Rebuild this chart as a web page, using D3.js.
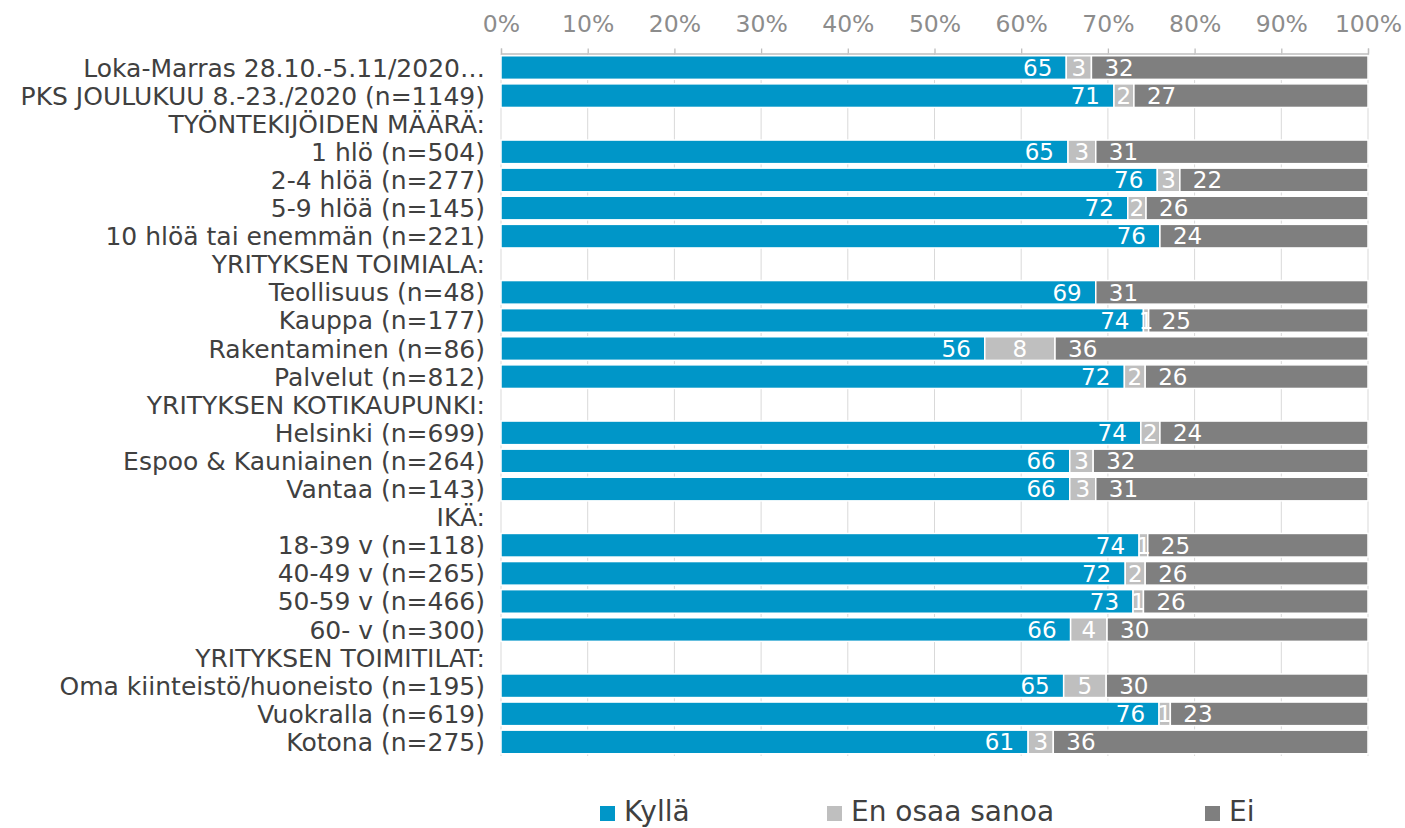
<!DOCTYPE html>
<html>
<head>
<meta charset="utf-8">
<script src="https://cdn.jsdelivr.net/npm/d3@7"></script>
<style>
  html, body { margin: 0; padding: 0; background: #ffffff; }
  svg { display: block; font-family: "DejaVu Sans", Verdana, sans-serif; }
</style>
</head>
<body>
<svg id="chart" width="1405" height="828"></svg>
<script>
// ---- Data ----
const categories = [
  "Loka-Marras 28.10.-5.11/2020…",
  "PKS JOULUKUU 8.-23./2020 (n=1149)",
  "TYÖNTEKIJÖIDEN MÄÄRÄ:",
  "1 hlö (n=504)",
  "2-4 hlöä (n=277)",
  "5-9 hlöä (n=145)",
  "10 hlöä tai enemmän (n=221)",
  "YRITYKSEN TOIMIALA:",
  "Teollisuus (n=48)",
  "Kauppa (n=177)",
  "Rakentaminen (n=86)",
  "Palvelut (n=812)",
  "YRITYKSEN KOTIKAUPUNKI:",
  "Helsinki (n=699)",
  "Espoo & Kauniainen (n=264)",
  "Vantaa (n=143)",
  "IKÄ:",
  "18-39 v (n=118)",
  "40-49 v (n=265)",
  "50-59 v (n=466)",
  "60- v (n=300)",
  "YRITYKSEN TOIMITILAT:",
  "Oma kiinteistö/huoneisto (n=195)",
  "Vuokralla (n=619)",
  "Kotona (n=275)"
];
const kylla = [65.2, 70.7, null, 65.4, 75.7, 72.3, 76.0, null, 68.6, 74.1, 55.8, 71.9, null, 73.8, 65.6, 65.6, null, 73.6, 72.0, 72.9, 65.7, null, 64.9, 75.9, 60.8];
const enOsaa = [2.9, 2.3, null, 3.2, 2.6, 2.1, 0, null, 0, 0.6, 8.1, 2.4, null, 2.2, 2.7, 3.0, null, 1.0, 2.3, 1.2, 4.2, null, 4.9, 1.3, 2.9];
const ei = [31.9, 27.0, null, 31.4, 21.7, 25.6, 24.0, null, 31.4, 25.3, 36.1, 25.7, null, 24.0, 31.7, 31.4, null, 25.4, 25.7, 25.9, 30.1, null, 30.2, 22.8, 36.3];
const seriesNames = ["Kyllä", "En osaa sanoa", "Ei"];
const seriesColors = ["#0096c8", "#bfbfbf", "#7f7f7f"];
const xTicks = [0, 10, 20, 30, 40, 50, 60, 70, 80, 90, 100];

// ---- Layout ----
const svg = d3.select("#chart");
const plotLeft = 501, plotRight = 1368, plotTop = 53.5, plotBottom = 756;

const x = d3.scaleLinear().domain([0, 100]).range([plotLeft, plotRight]);
const y = d3.scaleBand().domain(categories).range([plotTop, plotBottom]).paddingInner(0.16).paddingOuter(0.08);

// gridlines
svg.append("g").selectAll("line").data(xTicks).join("line")
  .attr("x1", d => x(d)).attr("x2", d => x(d))
  .attr("y1", plotTop).attr("y2", plotBottom)
  .attr("stroke", "#d9d9d9").attr("stroke-width", 1);

// top axis
const axis = d3.axisTop(x).tickValues(xTicks).tickFormat(d => d + "%").tickSize(5).tickPadding(17);
const gAxis = svg.append("g").attr("transform", `translate(0,${plotTop})`).call(axis);
gAxis.select(".domain").attr("stroke", "#bfbfbf").attr("stroke-width", 1.3);
gAxis.selectAll(".tick line").attr("stroke", "#bfbfbf").attr("stroke-width", 1.3);
gAxis.selectAll(".tick text").attr("fill", "#8c8c8c").attr("font-size", "23.5px")
  .attr("font-family", "DejaVu Sans, Verdana, sans-serif");

// stacked data
const rows = categories.map((c, i) => ({ cat: c, vals: [kylla[i], enOsaa[i], ei[i]] }))
  .filter(r => r.vals[0] !== null);
const segs = [];
rows.forEach(r => {
  let acc = 0;
  r.vals.forEach((v, k) => {
    segs.push({ cat: r.cat, k, x0: acc, x1: acc + v, v });
    acc += v;
  });
});

const barG = svg.append("g");
barG.selectAll("rect").data(segs.filter(s => s.v > 0)).join("rect")
  .attr("x", d => x(d.x0)).attr("width", d => x(d.x1) - x(d.x0))
  .attr("y", d => y(d.cat)).attr("height", y.bandwidth())
  .attr("fill", d => seriesColors[d.k])
  .attr("stroke", "#ffffff").attr("stroke-width", 1.5);

// data labels
barG.selectAll("text").data(segs.filter(s => s.v > 0)).join("text")
  .attr("x", d => d.k === 0 ? x(d.x1) - 14 : d.k === 1 ? (x(d.x0) + x(d.x1)) / 2 : x(d.x0) + 13)
  .attr("text-anchor", d => d.k === 0 ? "end" : d.k === 1 ? "middle" : "start")
  .attr("y", d => y(d.cat) + y.bandwidth() / 2)
  .attr("dy", "0.36em")
  .attr("fill", "#ffffff").attr("font-size", "23px")
  .text(d => Math.round(d.v));

// category labels
svg.append("g").selectAll("text").data(categories).join("text")
  .attr("x", 485).attr("y", d => y(d) + y.bandwidth() / 2).attr("dy", "0.36em")
  .attr("text-anchor", "end").attr("fill", "#404040").attr("font-size", "25px")
  .text(d => d);

// legend
const legendX = [600, 827, 1205];
const lg = svg.append("g").selectAll("g").data(seriesNames).join("g")
  .attr("transform", (d, i) => `translate(${legendX[i]},806)`);
lg.append("rect").attr("width", 15).attr("height", 15).attr("fill", (d, i) => seriesColors[i]);
lg.append("text").attr("x", 24).attr("y", 15).attr("fill", "#404040").attr("font-size", "28px").text(d => d);
</script>
</body>
</html>
